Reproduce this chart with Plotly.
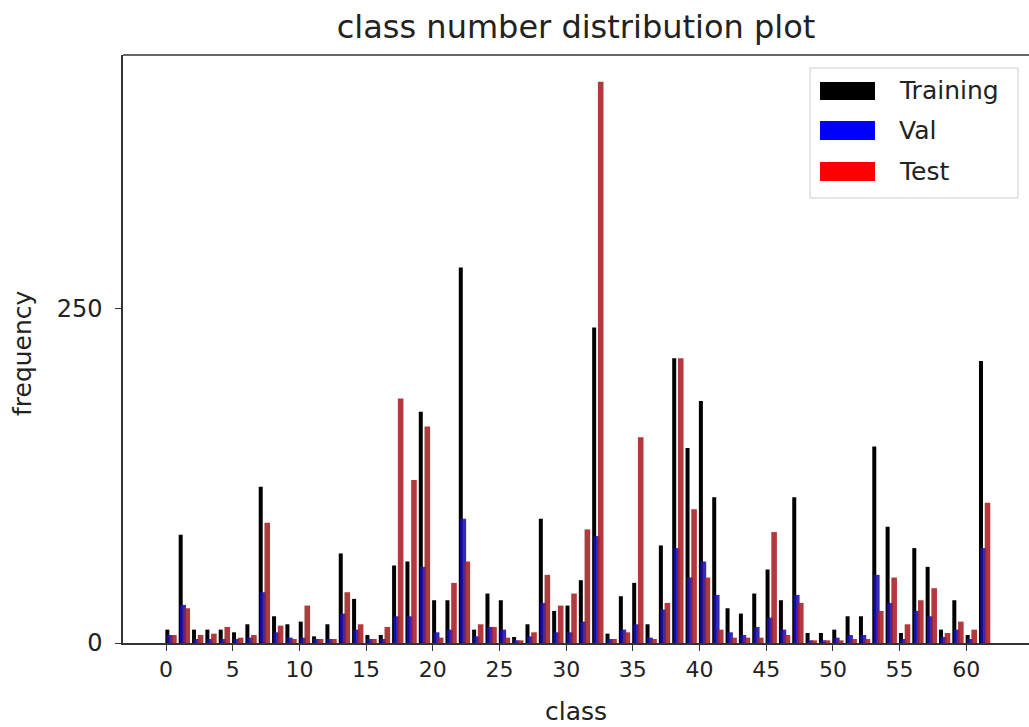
import plotly.graph_objects as go

classes = list(range(62))
training = [10, 81, 10, 10, 10, 8, 14, 117, 20, 14,
            16, 5, 14, 67, 33, 6, 6, 58, 61, 173,
            32, 32, 281, 10, 37, 32, 4.5, 14, 93, 24,
            28, 47, 236, 7, 35, 45, 14, 73, 213, 146,
            181, 109, 26, 22, 37, 55, 32, 109, 7.5, 7.5,
            10, 20, 20, 147, 87, 7.5, 71, 57, 10, 32,
            6, 211]
val = [6, 28.5, 3, 3, 3, 3, 4, 38, 8, 4,
       4, 3, 3, 22, 10, 3, 3, 20, 20, 57,
       8, 10, 93, 5, 12, 10, 2, 5, 30, 8,
       8, 16, 80, 3, 10, 14, 4, 25, 71, 49,
       61, 36, 8, 6, 12, 19, 10, 36, 2, 2,
       4, 6, 6, 51, 30, 3, 24, 20, 4.5, 10,
       3, 71]
test = [6, 26, 6, 7, 12, 4, 6, 90, 13, 3,
        28, 3, 3, 38, 14, 3, 12, 183, 122, 162,
        4, 45, 61, 14, 12, 4, 2, 8, 51, 28,
        37, 85, 420, 3, 8, 154, 3, 30, 213, 100,
        49, 10, 4, 4, 4, 83, 6, 30, 2, 2,
        2, 3, 3, 24, 49, 14, 32, 41, 7.5, 16,
        10, 105]
series_names = ["Training", "Val", "Test"]
legend_colors = ["#000000", "#0000ff", "#ff0000"]
xtick_vals = list(range(0, 61, 5))
ytick_vals = [0, 250]

W, H = 1029, 727
L, R, T, B = 123, 0, 55, 84
PW, PH = W - L - R, H - T - B


def px_x(px):
    return (px - L) / PW


def px_y(py):
    return (H - B - py) / PH


fig = go.Figure()
fig.add_trace(go.Bar(x=classes, y=training, offset=-0.05, width=0.3,
                     marker=dict(color="#000000", line=dict(width=0)),
                     showlegend=False))
fig.add_trace(go.Bar(x=classes, y=val, offset=0.05, width=0.45,
                     marker=dict(color="rgba(25,12,175,0.88)", line=dict(width=0)),
                     showlegend=False))
fig.add_trace(go.Bar(x=classes, y=test, offset=0.38, width=0.42,
                     marker=dict(color="rgba(168,30,36,0.88)", line=dict(width=0)),
                     showlegend=False))

txt = "#222222"
shapes = []
annotations = []
# top border
shapes.append(dict(type="line", xref="paper", yref="paper", x0=0, x1=1, y0=1, y1=1,
                   line=dict(color="#333333", width=1.5)))
# legend box
shapes.append(dict(type="rect", xref="paper", yref="paper",
                   x0=px_x(810), x1=px_x(1018), y0=px_y(198), y1=px_y(68),
                   line=dict(color="#cccccc", width=1), fillcolor="rgba(255,255,255,0.85)",
                   layer="above"))
sw_y = [(82, 100), (121, 140), (162, 181)]
for name, col, (ya, yb) in zip(series_names, legend_colors, sw_y):
    shapes.append(dict(type="rect", xref="paper", yref="paper",
                       x0=px_x(820), x1=px_x(875), y0=px_y(yb), y1=px_y(ya),
                       line=dict(width=0), fillcolor=col, layer="above"))
    annotations.append(dict(text=name, xref="paper", yref="paper",
                            x=px_x(897), y=px_y((ya + yb) / 2), xanchor="left", yanchor="middle",
                            showarrow=False, font=dict(size=25, color=txt)))
annotations.append(dict(text="class", xref="paper", yref="paper", x=0.5, y=px_y(711),
                        xanchor="center", yanchor="middle", showarrow=False,
                        font=dict(size=25, color=txt)))
annotations.append(dict(text="frequency", xref="paper", yref="paper", x=px_x(22), y=px_y(353),
                        xanchor="center", yanchor="middle", showarrow=False, textangle=-90,
                        font=dict(size=25, color=txt)))

fig.update_layout(
    width=W, height=H,
    margin=dict(l=L, r=R, t=T, b=B),
    paper_bgcolor="white", plot_bgcolor="white",
    barmode="overlay",
    font=dict(family="DejaVu Sans", color=txt),
    title=dict(text="class number distribution plot", x=0.5, xref="paper",
               y=1 - 27 / H, yref="container", xanchor="center", yanchor="middle",
               font=dict(size=32, color=txt)),
    xaxis=dict(range=[-3.225, 64.7], tickvals=xtick_vals, ticks="outside", ticklen=6,
               tickcolor="#333333", showline=True, linecolor="#333333", linewidth=1.5,
               showgrid=False, zeroline=False, tickfont=dict(size=22, color=txt)),
    yaxis=dict(range=[0, 440], tickvals=ytick_vals, ticks="outside", ticklen=6,
               tickcolor="#333333", showline=True, linecolor="#333333", linewidth=1.5,
               showgrid=False, zeroline=False, tickfont=dict(size=24, color=txt),
               ticklabelstandoff=8),
    shapes=shapes, annotations=annotations, showlegend=False,
)

fig.write_html("out.html")
